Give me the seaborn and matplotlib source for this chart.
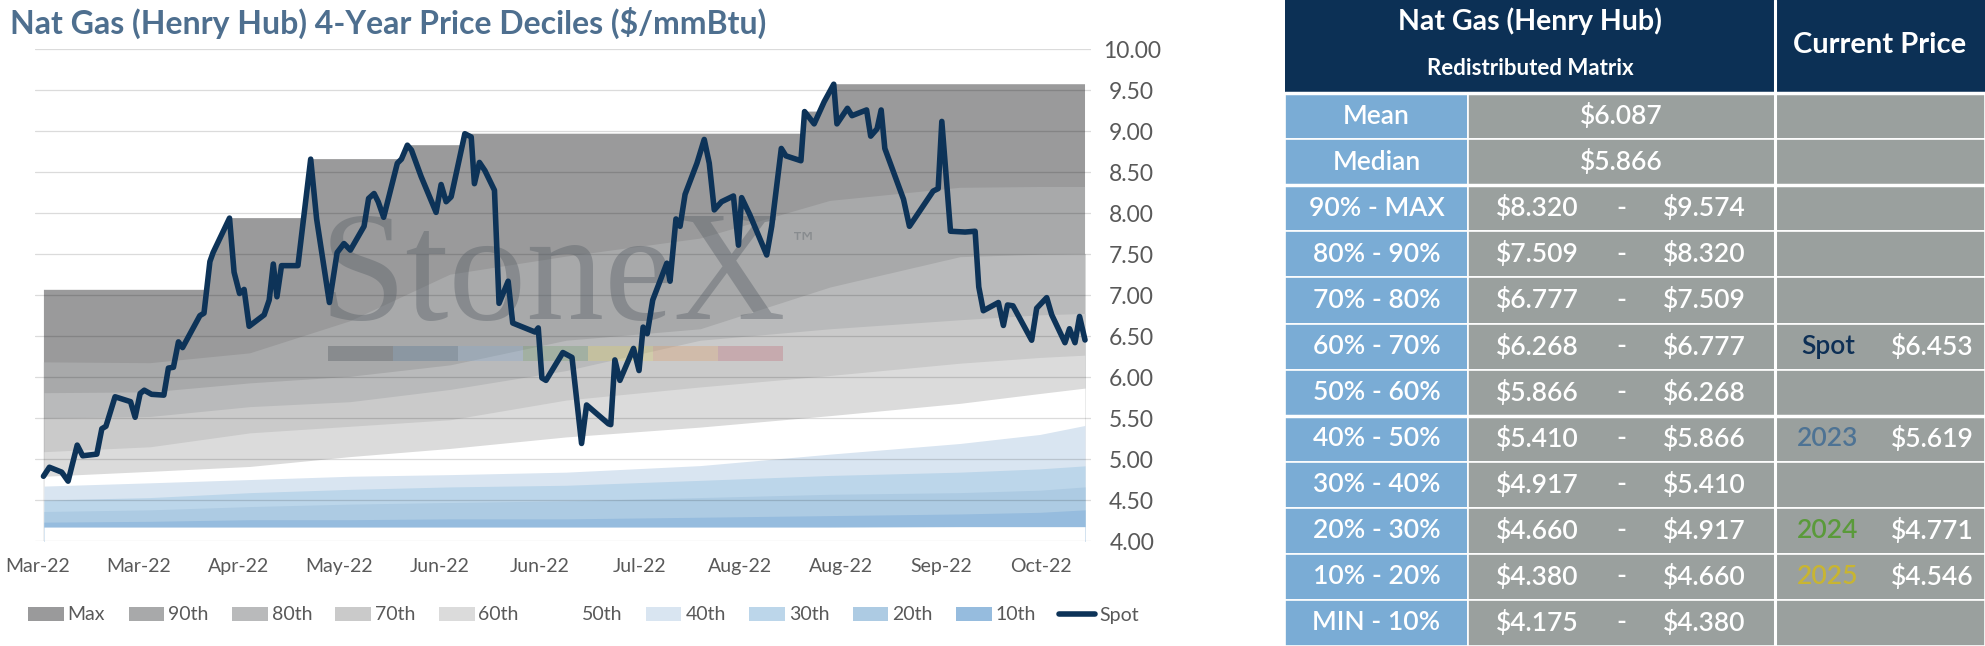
import numpy as np
import pandas as pd
import matplotlib
matplotlib.use("Agg")
import matplotlib.pyplot as plt
from matplotlib.patches import Patch, Rectangle
from matplotlib.lines import Line2D
import seaborn as sns

# ------------------------------------------------------------------ data
title = "Nat Gas (Henry Hub) 4-Year Price Deciles ($/mmBtu)"

tick_days = [0, 22, 44, 66, 88, 110, 132, 154, 176, 198, 220]
tick_labels = ["Mar-22", "Mar-22", "Apr-22", "May-22", "Jun-22", "Jun-22",
               "Jul-22", "Aug-22", "Aug-22", "Sep-22", "Oct-22"]
y_ticks = [4.0, 4.5, 5.0, 5.5, 6.0, 6.5, 7.0, 7.5, 8.0, 8.5, 9.0, 9.5, 10.0]

spot_day = [1.2, 2.5, 5.2, 6.6, 8.6, 9.8, 12.9, 14.0, 14.9, 16.9,
            20.3, 21.3, 22.4, 23.3, 24.9, 27.6, 28.6, 29.7, 30.8, 31.7,
            35.5, 36.4, 37.7, 38.4, 42.0, 43.0, 44.2, 45.2, 46.3, 49.6,
            50.7, 51.6, 52.4, 53.4, 57.0, 59.8, 61.1, 63.9, 65.6, 67.1,
            68.5, 71.5, 72.5, 73.7, 74.6, 75.8, 78.8, 79.7, 81.0, 81.9,
            84.0, 87.3, 88.4, 89.5, 90.6, 93.6, 95.0, 95.7, 96.8, 98.0,
            100.1, 101.1, 103.1, 104.1, 109.0, 109.7, 110.5, 111.4, 115.1, 117.1,
            119.2, 120.3, 125.1, 125.6, 126.5, 127.6, 130.6, 131.8, 132.7, 133.6,
            134.8, 137.9, 138.6, 139.9, 140.8, 141.9, 144.5, 146.1, 147.2, 148.3,
            149.9, 152.5, 153.6, 154.3, 156.1, 159.8, 160.9, 163.0, 164.0, 167.3,
            168.1, 170.2, 172.4, 174.5, 175.2, 177.5, 178.5, 181.7, 182.6, 184.0,
            184.9, 185.7, 189.8, 191.1, 196.3, 197.4, 198.2, 200.1, 203.3, 205.5,
            206.3, 207.3, 210.6, 211.7, 212.6, 213.8, 217.9, 219.0, 221.2, 222.3,
            225.2, 226.2, 227.4, 228.4, 229.6]
spot_price = [4.79, 4.90, 4.84, 4.73, 5.17, 5.04, 5.06, 5.37, 5.40, 5.76,
              5.70, 5.51, 5.80, 5.84, 5.79, 5.78, 6.11, 6.12, 6.43, 6.36,
              6.75, 6.78, 7.41, 7.52, 7.94, 7.28, 7.02, 7.07, 6.62, 6.76,
              6.94, 7.38, 6.98, 7.36, 7.36, 8.66, 7.93, 6.91, 7.52, 7.63,
              7.55, 7.84, 8.18, 8.24, 8.14, 7.95, 8.61, 8.66, 8.83, 8.77,
              8.45, 8.01, 8.35, 8.14, 8.20, 8.97, 8.93, 8.36, 8.62, 8.52,
              8.28, 6.90, 7.17, 6.66, 6.55, 6.60, 5.99, 5.96, 6.30, 6.24,
              5.19, 5.66, 5.43, 5.42, 6.21, 5.96, 6.35, 6.08, 6.61, 6.53,
              6.94, 7.39, 7.17, 7.93, 7.84, 8.23, 8.61, 8.90, 8.61, 8.04,
              8.14, 8.21, 7.61, 8.19, 7.98, 7.49, 7.84, 8.79, 8.70, 8.64,
              9.24, 9.09, 9.36, 9.574, 9.09, 9.28, 9.19, 9.26, 8.94, 9.03,
              9.26, 8.79, 8.17, 7.84, 8.27, 8.30, 9.12, 7.78, 7.77, 7.78,
              7.10, 6.81, 6.91, 6.63, 6.88, 6.87, 6.45, 6.84, 6.97, 6.76,
              6.42, 6.59, 6.42, 6.74, 6.453]

max_day = [1.3, 37.0, 37.7, 38.4, 42.0, 58.2, 59.8, 79.7, 81.0, 93.1, 93.6,
           167.7, 168.1, 171.4, 172.4, 174.5, 229.6]
max_price = [7.065, 7.065, 7.41, 7.52, 7.94, 7.94, 8.66, 8.66, 8.83, 8.83, 8.97,
             8.97, 9.24, 9.24, 9.36, 9.574, 9.574]

band_day = [1.3, 24.6, 46.5, 68.4, 90.4, 115.8, 145.2, 173.7, 202.2, 219.7, 229.6]
p90 = [6.18, 6.17, 6.29, 6.68, 7.25, 7.47, 7.69, 8.15, 8.31, 8.32, 8.320]
p80 = [5.81, 5.82, 5.93, 6.01, 6.15, 6.45, 6.59, 7.10, 7.47, 7.50, 7.509]
p70 = [5.50, 5.52, 5.64, 5.70, 5.85, 6.08, 6.45, 6.59, 6.70, 6.76, 6.777]
p60 = [5.09, 5.15, 5.32, 5.40, 5.48, 5.72, 5.88, 6.02, 6.17, 6.24, 6.268]
p50 = [4.79, 4.85, 4.91, 5.03, 5.13, 5.27, 5.39, 5.53, 5.68, 5.80, 5.866]
p40 = [4.67, 4.71, 4.75, 4.79, 4.81, 4.84, 4.92, 5.06, 5.19, 5.30, 5.410]
p30 = [4.50, 4.53, 4.59, 4.63, 4.66, 4.68, 4.74, 4.80, 4.84, 4.88, 4.917]
p20 = [4.36, 4.38, 4.42, 4.45, 4.47, 4.49, 4.53, 4.57, 4.59, 4.62, 4.660]
p10 = [4.23, 4.24, 4.26, 4.26, 4.27, 4.27, 4.29, 4.31, 4.33, 4.35, 4.380]
pmin = [4.17, 4.17, 4.17, 4.17, 4.17, 4.17, 4.17, 4.17, 4.175, 4.175, 4.175]

band_names = ["Max", "90th", "80th", "70th", "60th", "50th", "40th", "30th", "20th", "10th"]
band_colors = ["#9a9a9b", "#a8a9aa", "#b9babb", "#cacaca", "#dbdbdb", "#ffffff",
               "#d9e5f1", "#bcd6ea", "#adcbe3", "#96bcde"]
spot_color = "#0d3358"

# table
table_title = "Nat Gas (Henry Hub)"
table_subtitle = "Redistributed Matrix"
current_header = "Current Price"
stat_labels = ["Mean", "Median"]
stat_values = [6.087, 5.866]
range_labels = ["90% - MAX", "80% - 90%", "70% - 80%", "60% - 70%", "50% - 60%",
                "40% - 50%", "30% - 40%", "20% - 30%", "10% - 20%", "MIN - 10%"]
range_low = [8.320, 7.509, 6.777, 6.268, 5.866, 5.410, 4.917, 4.660, 4.380, 4.175]
range_high = [9.574, 8.320, 7.509, 6.777, 6.268, 5.866, 5.410, 4.917, 4.660, 4.380]
current_names = ["Spot", "2023", "2024", "2025"]
current_values = [6.453, 5.619, 4.771, 4.546]
current_rows = ["60% - 70%", "40% - 50%", "20% - 30%", "10% - 20%"]
current_colors = ["#0d2f55", "#4e7394", "#5a9a3a", "#c8b532"]

# ------------------------------------------------------------------ style
sns.set_theme(style="white")
plt.rcParams["font.family"] = ["Lato", "DejaVu Sans"]

W, H = 1985, 646
fig = plt.figure(figsize=(W / 100, H / 100), dpi=100)
fig.patch.set_facecolor("white")

# ------------------------------------------------------------------ chart
ax = fig.add_axes([34.8 / W, 1 - 541 / H, (1091.4 - 34.8) / W, 491.7 / H])
ax.set_facecolor("none")

band_values = [p90, p80, p70, p60, p50, p40, p30, p20, p10]
ax.fill_between(max_day, 0, max_price, color=band_colors[0], lw=0, zorder=1)
for vals, col in zip(band_values, band_colors[1:]):
    ax.fill_between(band_day, 0, vals, color=col, lw=0, zorder=1)
ax.fill_between(band_day, 0, pmin, color="white", lw=0, zorder=1)

spot_df = pd.DataFrame({"day": spot_day, "price": spot_price})
sns.lineplot(data=spot_df, x="day", y="price", ax=ax, color=spot_color, lw=4,
             sort=False, estimator=None, zorder=6,
             solid_joinstyle="round", solid_capstyle="round")

ax.set_xlim(-0.7, 231.0)
ax.set_ylim(4, 10)
ax.set_xticks(tick_days)
ax.set_xticklabels(tick_labels)
ax.set_yticks(y_ticks)
ax.set_yticklabels([f"{v:.2f}" for v in y_ticks])
ax.yaxis.tick_right()
ax.tick_params(axis="both", length=0, labelsize=14, labelcolor="#595959")
ax.tick_params(axis="x", pad=12)
ax.tick_params(axis="y", pad=29, labelsize=16.5)
for lab in ax.get_yticklabels():
    lab.set_horizontalalignment("center")
ax.set_xlabel("")
ax.set_ylabel("")
for s in ax.spines.values():
    s.set_visible(False)
ax.grid(axis="y", color="black", alpha=0.14, lw=0.9)
ax.grid(axis="x", visible=False)
ax.set_axisbelow(False)

# watermark logo
wm = "#5a6168"
ax.text(0.49, 0.452, "StoneX", transform=ax.transAxes, ha="center", va="baseline",
        fontsize=112, family="Liberation Serif", color=wm, alpha=0.42, zorder=3)
ax.text(0.728, 0.605, "\u2122", transform=ax.transAxes, ha="center", va="center",
        fontsize=20, family="DejaVu Sans", color=wm, alpha=0.4, zorder=3)
logo_colors = ["#404850", "#4a6f92", "#84a9cf", "#6f9a6a", "#e0d060", "#e09a60", "#c06070"]
for i, c in enumerate(logo_colors):
    ax.add_patch(Rectangle((0.2775 + i * 0.0615, 0.366), 0.0615, 0.0306,
                           transform=ax.transAxes, facecolor=c, alpha=0.3, lw=0, zorder=3))

# legend
handles = [Patch(facecolor=c, edgecolor="none") for c in band_colors]
handles.append(Line2D([], [], color=spot_color, lw=4))
fig.legend(handles, band_names + ["Spot"], loc="center left",
           bbox_to_anchor=(28 / W, 1 - 615 / H), ncol=11, frameon=False,
           fontsize=14, handlelength=1.84, handleheight=0.7, handletextpad=0.2,
           columnspacing=1.2, borderpad=0, borderaxespad=0, labelcolor="#595959")

fig.text(10 / W, 1 - 23 / H, title, ha="left", va="center", fontsize=23,
         fontweight="bold", color="#4e6f8f")

# ------------------------------------------------------------------ table
tax = fig.add_axes([1285 / W, 0, 700 / W, 1])
tax.set_xlim(1285, 1985)
tax.set_ylim(646, 0)
tax.axis("off")

navy_hdr = "#0c3055"
label_bg = "#7aacd5"
grey_bg = "#9aa09e"
col_edges = [1285, 1468, 1775, 1985]
y0 = 93.2
rh = (646 - y0) / 12

tax.add_patch(Rectangle((col_edges[0], 0), col_edges[2] - col_edges[0], y0,
                        facecolor=navy_hdr, edgecolor="none"))
tax.add_patch(Rectangle((col_edges[2], 0), col_edges[3] - col_edges[2], y0,
                        facecolor=navy_hdr, edgecolor="none"))
tax.text(1530, 21.7, table_title, ha="center", va="center", color="white",
         fontsize=20.5, fontweight="bold")
tax.text(1530, 68.3, table_subtitle, ha="center", va="center", color="white",
         fontsize=16, fontweight="bold")
tax.text(1880, 45, current_header, ha="center", va="center", color="white",
         fontsize=21, fontweight="bold")

all_labels = stat_labels + range_labels
txt = dict(ha="center", va="center", color="white", fontsize=19, fontweight="semibold")
for i, lab in enumerate(all_labels):
    top = y0 + i * rh
    cy = top + rh / 2
    tax.add_patch(Rectangle((col_edges[0], top), col_edges[1] - col_edges[0], rh,
                            facecolor=label_bg, edgecolor="white", lw=1.2))
    tax.add_patch(Rectangle((col_edges[1], top), col_edges[2] - col_edges[1], rh,
                            facecolor=grey_bg, edgecolor="white", lw=1.2))
    tax.add_patch(Rectangle((col_edges[2], top), col_edges[3] - col_edges[2], rh,
                            facecolor=grey_bg, edgecolor="white", lw=1.2))
    tax.text(1376.5, cy, lab, **txt)
    if i < len(stat_labels):
        tax.text(1621, cy, f"${stat_values[i]:.3f}", **txt)
    else:
        j = i - len(stat_labels)
        tax.text(1537, cy, f"${range_low[j]:.3f}", **txt)
        tax.text(1621, cy, "-", **txt)
        tax.text(1704, cy, f"${range_high[j]:.3f}", **txt)
        if lab in current_rows:
            k = current_rows.index(lab)
            tax.text(1828, cy, current_names[k], ha="center", va="center",
                     color=current_colors[k], fontsize=19, fontweight="semibold")
            tax.text(1932, cy, f"${current_values[k]:.3f}", **txt)

for yy in [y0, y0 + 2 * rh, y0 + 7 * rh]:
    tax.plot([col_edges[0], col_edges[3]], [yy, yy], color="white", lw=2.5, zorder=5)
tax.plot([col_edges[2], col_edges[2]], [0, 646], color="white", lw=2.2, zorder=5)

fig.savefig("out.png", dpi=100, facecolor="white")
